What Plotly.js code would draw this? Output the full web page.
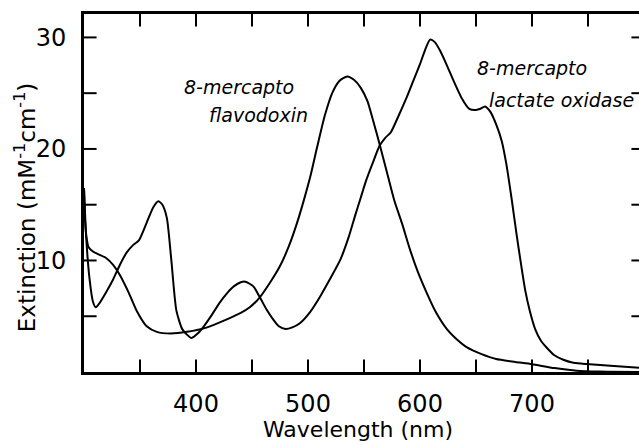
<!DOCTYPE html>
<html>
<head>
<meta charset="utf-8">
<script src="https://cdn.plot.ly/plotly-3.0.1.min.js"></script>
<style>
html,body{margin:0;padding:0;overflow:hidden;background:#fff;}
#chart{width:645px;height:445px;}
</style>
</head>
<body>
<div id="chart"></div>
<script>
// 8-mercapto flavodoxin spectrum
const flavoWl = [300,301,302.5,304,308,314,320,326,332,340,347,356,365,377,392,410,427,440,448,457,466,475,483,490,496,502,508,515,522,528,535,541,547,553,558,564,570,577,584,591,598,606,614,624,632,642,655,668,685,700,720,740,760,800];
const flavoExt = [16.5,13.5,11.9,11.2,10.8,10.5,10.2,9.6,8.7,7.1,5.5,4.1,3.6,3.45,3.6,4.0,4.7,5.3,5.8,6.7,8.0,9.5,11.3,13.3,15.3,17.5,20.1,23.0,25.1,26.1,26.5,26.2,25.5,24.3,22.6,20.4,18.1,15.4,13.3,11.0,9.0,7.1,5.4,3.84,3.0,2.2,1.6,1.16,0.9,0.7,0.35,0.12,0.04,0.0];

// 8-mercapto lactate oxidase spectrum
const loxWl = [300,302,305,308,310.5,314,320,326,332,338,344,349,356,362,366.5,370,374,378,382.5,388,396,402,407,414,421,428,434,440,444,451,457,463,469,474,480,486,493,502,511,520,529,536,542,547,552,558,564,569,574,581,588,594,600,605,609,613,618,624,630,637,644,650,654,658,663,668,673,677,682,686,690,694,698,703,708,713,720,728,736,745,770,800];
const loxExt = [16.5,12.0,8.3,6.3,5.8,6.2,7.2,8.3,9.6,10.7,11.4,11.8,13.4,14.8,15.3,15.0,13.8,10.0,5.5,3.8,3.05,3.5,4.1,5.1,6.2,7.1,7.7,8.05,8.1,7.7,6.7,5.6,4.7,4.1,3.85,4.0,4.4,5.4,6.8,8.4,10.1,12.0,14.0,15.6,17.2,18.8,20.3,21.0,21.5,23.0,24.6,26.1,27.6,29.0,29.8,29.6,28.8,27.5,26.1,24.6,23.6,23.5,23.6,23.8,23.3,22.2,20.7,18.7,15.4,12.5,9.8,7.3,5.5,3.8,2.8,2.2,1.5,1.1,0.85,0.75,0.55,0.35];

// Axis ticks
const xRange = [300, 800];
const yRange = [0, 32.1];
const xTickVals = [350,400,450,500,550,600,650,700,750];
const xLabelVals = [400,500,600,700];
const xLabelText = ['400','500','600','700'];
const yTickVals = [5,10,15,20,25,30];
const yLabelVals = [10,20,30];
const yLabelText = ['10','20','30'];

const FONT = 'DejaVu Sans, Liberation Sans, sans-serif';

const lineStyle = {color:'#000', width:2, shape:'spline', smoothing:0.6};

// inward tick marks: line markers centred on the frame, clipped to the plot area (half shows)
function tickTrace(xs, ys, symbol){
  return {x: xs, y: ys, type:'scatter', mode:'markers', cliponaxis:true, hoverinfo:'skip', showlegend:false,
          marker:{symbol: symbol, size:18, color:'#000', line:{color:'#000', width:2}}};
}

const traces = [
  {x: flavoWl, y: flavoExt, type:'scatter', mode:'lines', line: lineStyle, name:'8-mercapto flavodoxin'},
  {x: loxWl, y: loxExt, type:'scatter', mode:'lines', line: lineStyle, name:'8-mercapto lactate oxidase'},
  tickTrace(xTickVals, xTickVals.map(() => yRange[0]), 'line-ns-open'),
  tickTrace(xTickVals, xTickVals.map(() => yRange[1]), 'line-ns-open'),
  tickTrace(yTickVals.map(() => xRange[0]), yTickVals, 'line-ew-open'),
  tickTrace(yTickVals.map(() => xRange[1]), yTickVals, 'line-ew-open')
];

const layout = {
  width:645, height:445,
  margin:{l:84, r:1, t:14, b:73},
  font:{family:FONT, color:'#000'},
  showlegend:false,
  xaxis:{
    range:xRange, tickmode:'array', tickvals:xLabelVals, ticktext:xLabelText,
    showgrid:false, zeroline:false,
    showline:true, linewidth:3, linecolor:'#000', mirror:true,
    ticks:'', tickfont:{size:24}, ticklabelstandoff:8
  },
  yaxis:{
    range:yRange, tickmode:'array', tickvals:yLabelVals, ticktext:yLabelText,
    showgrid:false, zeroline:false,
    showline:true, linewidth:3, linecolor:'#000', mirror:true,
    ticks:'', tickfont:{size:24}, ticklabelstandoff:10
  },
  annotations:[
    {text:'Wavelength (nm)', xref:'paper', yref:'paper', x:0.489, y:-0.162, showarrow:false,
     xanchor:'center', yanchor:'middle', font:{size:22}},
    {text:'Extinction (mM<sup>-1</sup>cm<sup>-1</sup>)', xref:'paper', yref:'paper', x:-0.105, y:0.461,
     textangle:-90, showarrow:false, xanchor:'center', yanchor:'middle', font:{size:23}},
    {text:'<i>8-mercapto</i>', xref:'paper', yref:'paper', x:(239-84)/560, y:(372-87)/358, showarrow:false,
     xanchor:'center', yanchor:'middle', font:{size:19}},
    {text:'<i>flavodoxin</i>', xref:'paper', yref:'paper', x:(258-84)/560, y:(372-115)/358, showarrow:false,
     xanchor:'center', yanchor:'middle', font:{size:19}},
    {text:'<i>8-mercapto</i>', xref:'paper', yref:'paper', x:(532-84)/560, y:(372-68)/358, showarrow:false,
     xanchor:'center', yanchor:'middle', font:{size:19}},
    {text:'<i>lactate oxidase</i>', xref:'paper', yref:'paper', x:(561-84)/560, y:(372-100)/358, showarrow:false,
     xanchor:'center', yanchor:'middle', font:{size:19}}
  ]
};

Plotly.newPlot('chart', traces, layout, {displayModeBar:false});
</script>
</body>
</html>
